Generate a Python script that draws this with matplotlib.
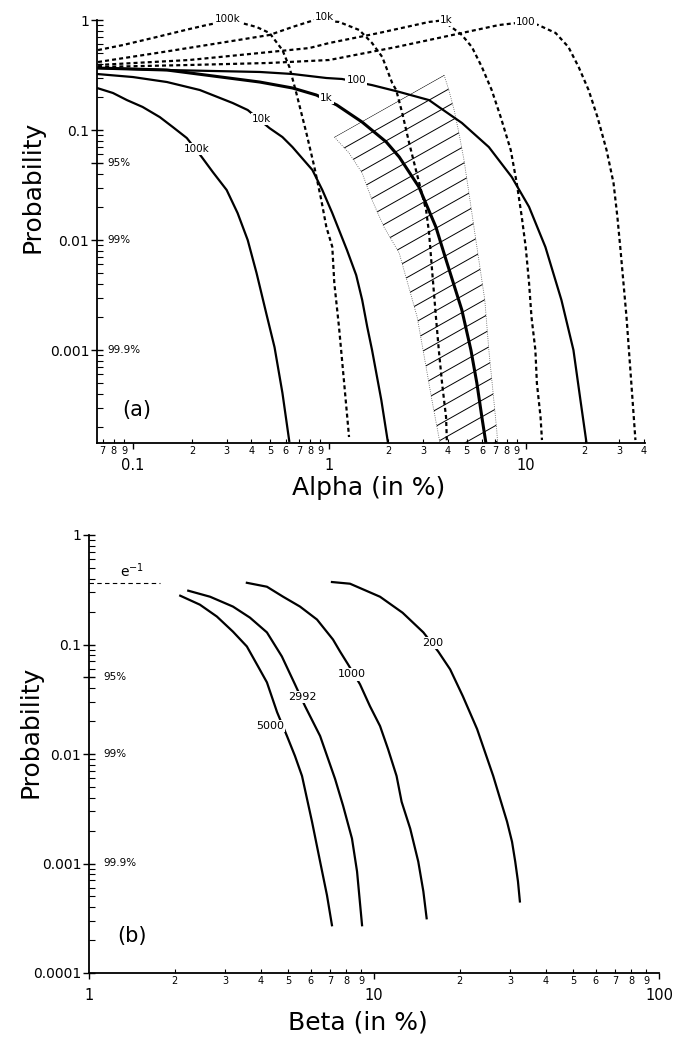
import matplotlib.pyplot as plt
from matplotlib.patches import Polygon
from matplotlib.ticker import FixedLocator, FixedFormatter

plt.rcParams['font.family'] = ['DejaVu Sans']

# ---------------- panel (a): Alpha (in %) ----------------
# solid curves
a100k_x = [0.0656, 0.0791, 0.0932, 0.112, 0.137, 0.160, 0.188, 0.224, 0.255, 0.300, 0.341, 0.384, 0.426, 0.479, 0.526, 0.577, 0.626]
a100k_y = [0.241, 0.217, 0.187, 0.162, 0.131, 0.106, 0.0846, 0.0568, 0.0415, 0.0285, 0.0176, 0.0100, 0.00501, 0.0021, 0.00106, 4.07e-4, 1.46e-4]
a10k_x = [0.0656, 0.1, 0.149, 0.219, 0.322, 0.384, 0.496, 0.577, 0.649, 0.820, 0.921, 1.035, 1.23, 1.37, 1.47, 1.56, 1.65, 1.84, 1.99]
a10k_y = [0.323, 0.303, 0.273, 0.231, 0.176, 0.152, 0.104, 0.0863, 0.070, 0.0433, 0.0285, 0.0176, 0.0081, 0.0048, 0.00285, 0.00162, 0.001, 3.5e-4, 1.43e-4]
a1k_x = [0.0656, 0.149, 0.442, 0.649, 0.859, 1.09, 1.47, 1.95, 2.27, 2.86, 3.49, 3.93, 4.73, 5.26, 5.64, 5.98, 6.27]
a1k_y = [0.366, 0.351, 0.273, 0.241, 0.208, 0.169, 0.118, 0.0778, 0.0568, 0.0303, 0.0131, 0.0066, 0.00231, 0.001, 5.0e-4, 2.46e-4, 1.43e-4]
a100_x = [0.0656, 0.149, 0.442, 0.649, 0.966, 1.16, 1.65, 2.27, 3.22, 3.61, 4.73, 6.49, 8.49, 10.4, 12.6, 15.2, 17.5, 19.0, 20.4]
a100_y = [0.366, 0.351, 0.337, 0.323, 0.297, 0.291, 0.256, 0.222, 0.187, 0.162, 0.116, 0.070, 0.0374, 0.020, 0.00863, 0.00285, 0.001, 3.5e-4, 1.43e-4]

# dashed curves
d100k_x = [0.0664, 0.0889, 0.132, 0.194, 0.238, 0.303, 0.357, 0.426, 0.496, 0.514, 0.577, 0.626, 0.679, 0.729, 0.764, 0.839,
           0.910, 0.966, 1.035, 1.06, 1.12, 1.19, 1.26]
d100k_y = [0.533, 0.592, 0.700, 0.828, 0.901, 0.98, 0.94, 0.864, 0.762, 0.70, 0.533, 0.374, 0.217, 0.131, 0.094, 0.0461,
           0.0231, 0.0131, 0.0087, 0.00407, 0.00162, 5.0e-4, 1.62e-4]
d10k_x = [0.0664, 0.132, 0.238, 0.496, 0.649, 0.84, 1.12, 1.42, 1.65, 1.86, 2.09, 2.19, 2.35, 2.55, 2.76, 3.11, 3.22,
          3.33, 3.49, 3.61, 3.75, 3.93, 3.97]
d10k_y = [0.415, 0.501, 0.592, 0.731, 0.864, 1.0, 0.96, 0.811, 0.618, 0.461, 0.267, 0.231, 0.143, 0.0762, 0.0433,
          0.0187, 0.0116, 0.0055, 0.002, 0.001, 5.0e-4, 2.46e-4, 1.43e-4]
d1k_x = [0.0664, 0.194, 0.442, 0.791, 1.0, 1.79, 3.22, 3.93, 4.06, 4.73, 5.32, 5.98, 6.71, 7.46, 8.39, 9.0, 9.55, 10.0,
         10.4, 10.7, 11.2, 11.4, 11.9, 12.1]
d1k_y = [0.39, 0.433, 0.501, 0.556, 0.618, 0.762, 0.96, 1.0, 0.90, 0.731, 0.568, 0.374, 0.231, 0.131, 0.0658, 0.033, 0.0162,
         0.00863, 0.00407, 0.002, 0.001, 5.0e-4, 2.46e-4, 1.52e-4]
d100_x = [0.0664, 0.194, 0.496, 1.0, 2.19, 4.73, 7.30, 10.0, 11.6, 14.2, 16.5, 18.6, 20.9, 23.2, 25.8, 28.0, 29.3, 30.4,
          32.6, 34.5, 36.2]
d100_y = [0.374, 0.39, 0.407, 0.433, 0.568, 0.762, 0.90, 0.96, 0.90, 0.762, 0.568, 0.374, 0.231, 0.131, 0.0658, 0.033,
          0.0162, 0.0081, 0.002, 5.0e-4, 1.52e-4]

# hatched band around the 1k curve
band_left_x = [1.06, 1.26, 1.47, 1.65, 1.90, 2.27, 2.80, 3.11, 3.33, 3.66, 3.75]
band_left_y = [0.0863, 0.0618, 0.0406, 0.0231, 0.0131, 0.0076, 0.002, 7.0e-4, 3.5e-4, 1.43e-4, 1.0e-4]
band_right_x = [3.84, 4.06, 4.32, 4.57, 4.85, 5.14, 5.45, 5.77, 6.19, 6.49, 6.80, 7.12, 7.3]
band_right_y = [0.316, 0.231, 0.152, 0.094, 0.0533, 0.0267, 0.0131, 0.0066, 0.00285, 0.001, 4.33e-4, 1.87e-4, 1.0e-4]

a_solid = [(a100k_x, a100k_y, 1.6), (a10k_x, a10k_y, 1.6), (a1k_x, a1k_y, 2.2), (a100_x, a100_y, 1.6)]
a_dashed = [(d100k_x, d100k_y), (d10k_x, d10k_y), (d1k_x, d1k_y), (d100_x, d100_y)]
a_solid_labels = [('100k', 0.211, 0.0672), ('10k', 0.452, 0.126), ('1k', 0.966, 0.195), ('100', 1.37, 0.285)]
a_dashed_labels = [('100k', 0.303, 1.02), ('10k', 0.944, 1.06), ('1k', 3.93, 1.0), ('100', 10.0, 0.96)]

# ---------------- panel (b): Beta (in %) ----------------
b5000_x = [2.09, 2.45, 2.81, 3.20, 3.58, 3.92, 4.21, 4.57, 4.95, 5.28, 5.59, 6.06, 6.47, 6.84, 7.12]
b5000_y = [0.279, 0.231, 0.18, 0.131, 0.096, 0.063, 0.0451, 0.0241, 0.0146, 0.0096, 0.0063, 0.00241, 0.00104, 5.12e-4, 2.73e-4]
b2992_x = [2.23, 2.66, 3.20, 3.67, 4.21, 4.75, 5.28, 5.73, 6.47, 7.30, 7.79, 8.37, 8.72, 9.08]
b2992_y = [0.31, 0.273, 0.222, 0.176, 0.129, 0.0778, 0.0433, 0.0273, 0.0146, 0.00593, 0.00337, 0.00169, 8.45e-4, 2.73e-4]
b1000_x = [3.58, 4.21, 4.80, 5.50, 6.31, 7.18, 7.60, 8.11, 8.93, 9.68, 10.5, 11.2, 12.0, 12.5, 13.4, 14.3, 14.9, 15.3]
b1000_y = [0.366, 0.337, 0.273, 0.222, 0.169, 0.111, 0.0863, 0.0658, 0.0433, 0.0273, 0.018, 0.0111, 0.0063, 0.00366,
           0.00208, 0.00104, 5.56e-4, 3.16e-4]
b200_x = [7.12, 8.24, 10.5, 12.6, 14.9, 16.8, 18.5, 20.5, 23.0, 26.2, 27.7, 29.3, 30.5, 31.3, 32.0, 32.5]
b200_y = [0.372, 0.359, 0.273, 0.195, 0.129, 0.0863, 0.0593, 0.0337, 0.0169, 0.0063, 0.0039, 0.00241, 0.00158, 0.00104,
          6.86e-4, 4.5e-4]
b_curves = [(b5000_x, b5000_y), (b2992_x, b2992_y), (b1000_x, b1000_y), (b200_x, b200_y)]
b_labels = [('5000', 4.31, 0.018), ('2992', 5.59, 0.033), ('1000', 8.37, 0.0533), ('200', 16.1, 0.104)]
e_inv_x = [1.0, 1.78]
e_inv_y = 0.3679

conf_levels = [('95%', 0.05), ('99%', 0.01), ('99.9%', 0.001)]

fig = plt.figure(figsize=(6.73, 10.39), dpi=100)
ax1 = fig.add_axes([97 / 673, 1 - 443 / 1039, 548 / 673, 423 / 1039])
ax2 = fig.add_axes([89 / 673, 1 - 973 / 1039, 570 / 673, 438 / 1039])


def style_axis(ax, xmajor, xmajor_lbl, xminor, xminor_lbl, ymajor, ymajor_lbl, yminor, conf_x):
    ax.set_xscale('log')
    ax.set_yscale('log')
    for s in ['top', 'right']:
        ax.spines[s].set_visible(False)
    for s in ['left', 'bottom']:
        ax.spines[s].set_linewidth(1.3)
    ax.xaxis.set_major_locator(FixedLocator(xmajor))
    ax.xaxis.set_major_formatter(FixedFormatter(xmajor_lbl))
    ax.xaxis.set_minor_locator(FixedLocator(xminor))
    ax.xaxis.set_minor_formatter(FixedFormatter(xminor_lbl))
    ax.yaxis.set_major_locator(FixedLocator(ymajor))
    ax.yaxis.set_major_formatter(FixedFormatter(ymajor_lbl))
    ax.yaxis.set_minor_locator(FixedLocator(yminor))
    ax.tick_params(axis='x', which='major', direction='out', length=4.5, width=1.0, labelsize=10.5, pad=6)
    ax.tick_params(axis='x', which='minor', direction='in', length=3, width=0.8, labelsize=7, pad=2)
    ax.tick_params(axis='y', which='major', direction='inout', length=9, width=1.0, labelsize=10, pad=1)
    ax.tick_params(axis='y', which='minor', direction='in', length=4, width=0.8)
    for t in ax.yaxis.get_minor_ticks():
        t.label1.set_visible(False)
    for lvl, yv in conf_levels:
        ax.text(conf_x, yv, lvl, fontsize=7.5, va='center', ha='left')


digits = [str(d) for d in range(2, 10)]
yminor = [m * 10.0 ** e for e in range(-4, 0) for m in range(2, 10) if not (e == -2 and m == 5)]

# panel (a)
style_axis(ax1, [0.1, 1, 10], ['0.1', '1', '10'],
           [0.07, 0.08, 0.09] + [m * 0.1 for m in range(2, 10)] + list(range(2, 10)) + [20, 30, 40],
           ['7', '8', '9'] + digits + digits + ['2', '3', '4'],
           [0.001, 0.01, 0.05, 0.1, 1], ['0.001', '0.01', '', '0.1', '1'], yminor, 0.0738)
ax1.set_xlim(0.0656, 40.5)
ax1.set_ylim(10 ** -3.845, 1)

for x, y, lw in a_solid:
    ax1.plot(x, y, color='black', lw=lw, solid_capstyle='butt', zorder=3)
for x, y in a_dashed:
    ax1.plot(x, y, color='black', lw=1.6, ls=(0, (1.8, 1.4)), clip_on=False, zorder=3)
for lbl, x, y in a_solid_labels + a_dashed_labels:
    ax1.text(x, y, lbl, fontsize=7.5, ha='center', va='center', zorder=5, clip_on=False,
             bbox=dict(facecolor='white', edgecolor='none', pad=0.8))

# band: dotted outline, parallel hatch lines clipped to it
band_xy = list(zip(band_left_x, band_left_y)) + list(zip(band_right_x, band_right_y))[::-1]
band = Polygon(band_xy, closed=True, facecolor='none', edgecolor='none', transform=ax1.transData)
ax1.add_patch(band)
ax1.plot(band_left_x, band_left_y, color='#555555', lw=0.6, ls=':', zorder=2)
ax1.plot(band_right_x, band_right_y, color='#555555', lw=0.6, ls=':', zorder=2)
x0, y0 = ax1.transAxes.inverted().transform(ax1.transData.transform((band_left_x[0], band_left_y[0])))
slope = 0.564 * 548 / 423
step = 16.5 / 423
for k in range(0, 30):
    c = y0 - k * step
    ln, = ax1.plot([0, 1], [c - slope * x0, c + slope * (1 - x0)], transform=ax1.transAxes,
                   color='black', lw=0.7, zorder=2)
    ln.set_clip_path(band)

ax1.text(0.088, 2.85e-4, '(a)', fontsize=15, ha='left', va='center')
ax1.set_xlabel('Alpha (in %)', fontsize=18)
ax1.xaxis.set_label_coords(0.496, -0.078)
ax1.set_ylabel('Probability', fontsize=18)
ax1.yaxis.set_label_coords(-0.095, 0.605)

# panel (b)
style_axis(ax2, [1, 10, 100], ['1', '10', '100'],
           list(range(2, 10)) + list(range(20, 100, 10)),
           digits + digits,
           [0.0001, 0.001, 0.01, 0.05, 0.1, 1], ['0.0001', '0.001', '0.01', '', '0.1', '1'], yminor, 1.12)
ax2.set_xlim(1, 100)
ax2.set_ylim(1e-4, 1)

for x, y in b_curves:
    ax2.plot(x, y, color='black', lw=1.6, zorder=3)
for lbl, x, y in b_labels:
    ax2.text(x, y, lbl, fontsize=8, ha='center', va='center', zorder=5,
             bbox=dict(facecolor='white', edgecolor='none', pad=0.8))
ax2.plot(e_inv_x, [e_inv_y, e_inv_y], color='black', lw=0.8, ls=(0, (4, 3)))
ax2.text(1.28, 0.39, r'e$^{-1}$', fontsize=10, ha='left', va='bottom')

ax2.text(1.26, 2.17e-4, '(b)', fontsize=15, ha='left', va='center')
ax2.set_xlabel('Beta (in %)', fontsize=18)
ax2.xaxis.set_label_coords(0.472, -0.085)
ax2.set_ylabel('Probability', fontsize=18)
ax2.yaxis.set_label_coords(-0.082, 0.55)

fig.savefig('out.png', dpi=100)
